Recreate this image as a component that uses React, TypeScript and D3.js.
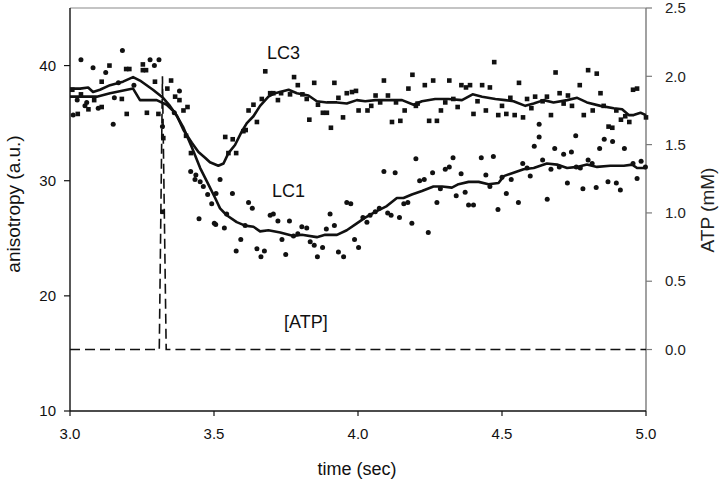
import React from "react";
import * as d3 from "d3";

// ---- data (time in s, anisotropy in a.u., ATP in mM) ----
const lc3Squares: [number, number][] = [
  [3.008,37.9],[3.027,35.8],[3.038,37.5],[3.064,36.2],[3.084,37.0],[3.110,38.6],[3.110,36.4],[3.137,40.0],[3.180,37.1],[3.195,39.7],[3.197,35.8],[3.206,39.7],[3.253,40.1],[3.253,39.6],[3.264,39.6],[3.267,35.9],[3.295,38.6],[3.307,35.8],[3.322,27.3],[3.324,33.7],[3.338,38.0],[3.351,38.7],[3.365,37.3],[3.380,37.0],[3.394,36.1],[3.403,33.9],[3.408,36.4],[3.420,32.4],
  [3.539,33.8],[3.550,32.4],[3.565,33.6],[3.577,32.4],[3.602,34.3],[3.610,34.4],[3.620,36.1],[3.637,36.6],[3.649,35.1],[3.666,37.1],[3.678,39.5],[3.695,37.6],[3.706,37.6],[3.722,37.0],[3.733,37.6],[3.764,37.5],[3.778,39.0],[3.791,38.3],[3.807,37.5],[3.822,37.1],[3.831,35.3],[3.848,38.5],[3.861,36.6],[3.878,35.9],[3.892,35.9],[3.906,34.6],[3.918,38.5],[3.932,37.2],[3.948,35.5],[3.961,37.6],[3.979,37.7],[3.993,37.8],[4.002,36.1],
  [4.033,36.1],[4.046,36.5],[4.061,37.4],[4.077,36.8],[4.090,38.7],[4.104,37.4],[4.118,35.1],[4.132,36.8],[4.147,35.2],[4.162,36.1],[4.175,38.0],[4.189,39.2],[4.201,36.5],[4.207,36.7],[4.232,38.3],[4.247,35.2],[4.261,38.7],[4.274,35.2],[4.288,36.1],[4.303,36.8],[4.317,38.7],[4.331,37.1],[4.346,36.4],[4.359,38.3],[4.375,38.1],[4.389,38.3],[4.401,35.8],[4.415,36.9],[4.431,38.3],[4.444,36.1],[4.458,38.1],[4.473,40.3],[4.487,35.7],[4.500,36.5],
  [4.515,35.8],[4.529,37.2],[4.544,35.7],[4.559,38.5],[4.573,35.5],[4.587,37.1],[4.602,36.3],[4.615,37.3],[4.641,36.9],[4.656,37.3],[4.670,35.7],[4.686,39.4],[4.700,37.6],[4.714,36.7],[4.729,37.4],[4.743,36.5],[4.770,38.3],[4.784,35.7],[4.799,39.6],[4.815,36.1],[4.829,39.3],[4.842,37.6],[4.853,36.5],[4.870,34.7],[4.883,34.6],[4.897,36.1],[4.913,35.3],[4.928,35.6],[4.942,35.1],[4.955,37.9],[4.969,38.0],[5.000,35.5]
];

const lc1Circles: [number, number][] = [
  [3.011,35.7],[3.025,37.0],[3.038,40.5],[3.052,36.5],[3.058,36.8],[3.080,39.8],[3.098,36.3],[3.124,39.4],[3.150,34.9],[3.154,37.2],[3.168,38.5],[3.182,41.3],[3.222,38.3],[3.278,40.5],[3.293,40.0],[3.309,40.5],[3.321,34.7],[3.362,35.9],[3.380,37.8],[3.419,30.8],[3.434,30.1],[3.437,30.5],[3.448,26.7],[3.452,29.9],[3.463,29.5],[3.478,28.8],[3.492,28.0],[3.501,26.3],[3.506,26.2],[3.507,28.9],[3.521,30.1],[3.536,25.9],[3.544,27.1],[3.564,28.9],[3.577,23.9],[3.593,24.9],[3.608,26.1],[3.620,28.1],[3.633,27.6],[3.649,24.1],[3.663,23.4],[3.675,23.9],[3.695,27.0],[3.706,27.1],[3.722,26.5],[3.736,24.9],[3.749,23.6],[3.762,26.5],[3.776,25.2],[3.791,25.4],[3.805,26.0],[3.822,25.9],[3.834,24.7],[3.848,24.4],[3.859,23.4],[3.877,24.2],[3.890,25.8],[3.903,27.1],[3.918,26.1],[3.932,23.8],[3.950,23.4],[3.961,28.1],[3.975,28.0],[3.988,24.9],[4.002,24.2],
  [4.017,26.8],[4.031,26.4],[4.042,27.0],[4.060,27.3],[4.074,27.6],[4.090,30.8],[4.103,27.2],[4.115,27.0],[4.129,30.7],[4.144,26.8],[4.159,28.0],[4.173,28.1],[4.187,26.3],[4.201,31.9],[4.214,30.0],[4.230,30.1],[4.244,25.5],[4.259,30.7],[4.274,28.1],[4.286,29.3],[4.303,31.0],[4.317,31.2],[4.330,32.0],[4.341,28.7],[4.358,30.6],[4.372,29.0],[4.384,27.9],[4.401,27.9],[4.428,32.0],[4.444,30.5],[4.458,29.5],[4.470,32.1],[4.486,27.5],[4.500,30.3],
  [4.515,28.9],[4.532,30.1],[4.557,28.1],[4.572,31.5],[4.587,31.1],[4.598,30.4],[4.612,33.0],[4.629,34.9],[4.629,33.8],[4.641,31.8],[4.657,28.4],[4.670,31.0],[4.683,32.8],[4.699,31.2],[4.714,32.3],[4.727,29.8],[4.741,32.5],[4.756,33.9],[4.758,31.2],[4.772,31.1],[4.781,29.3],[4.799,31.8],[4.813,31.5],[4.827,29.4],[4.839,32.8],[4.855,33.6],[4.868,29.9],[4.884,33.4],[4.897,29.8],[4.911,29.2],[4.925,32.8],[4.955,31.5],[4.969,30.2],[4.983,31.7],[4.998,31.2]
];

const lc3Smooth: [number, number][] = [
  [3.000,38.0],[3.035,38.0],[3.063,38.1],[3.080,37.7],[3.104,37.9],[3.139,38.3],[3.184,38.6],[3.219,39.0],[3.243,38.7],[3.288,37.9],[3.323,37.2],[3.347,36.5],[3.372,35.6],[3.394,34.4],[3.423,33.3],[3.446,32.5],[3.469,32.0],[3.486,31.6],[3.515,31.3],[3.533,31.5],[3.550,32.4],[3.573,33.1],[3.597,34.3],[3.614,35.0],[3.637,35.6],[3.660,36.5],[3.689,37.3],[3.712,37.6],[3.759,37.9],[3.788,37.6],[3.828,37.4],[3.857,36.9],[3.892,36.8],[3.927,36.8],[3.961,36.7],[3.996,37.0],[4.025,36.9],[4.060,37.0],[4.106,37.0],[4.153,37.0],[4.193,36.6],[4.222,36.9],[4.268,37.1],[4.314,37.1],[4.361,37.0],[4.398,37.5],[4.431,37.3],[4.477,37.1],[4.511,37.0],[4.540,36.9],[4.581,36.5],[4.610,36.7],[4.645,37.0],[4.679,36.8],[4.726,37.0],[4.761,37.2],[4.795,36.8],[4.842,36.5],[4.888,36.3],[4.917,36.2],[4.940,35.7],[4.957,35.7],[4.981,35.9],[5.000,35.7]
];

const lc1Smooth: [number, number][] = [
  [3.000,37.3],[3.093,37.3],[3.139,37.6],[3.219,38.0],[3.243,37.0],[3.301,37.0],[3.336,36.6],[3.365,35.9],[3.394,34.6],[3.423,32.9],[3.452,31.1],[3.480,29.7],[3.504,28.5],[3.521,27.6],[3.544,27.0],[3.579,26.4],[3.608,26.1],[3.637,26.0],[3.660,25.6],[3.689,25.7],[3.730,25.5],[3.776,25.2],[3.805,25.3],[3.857,25.1],[3.886,25.3],[3.927,25.3],[3.961,25.7],[3.996,26.3],[4.025,26.8],[4.060,27.3],[4.100,27.8],[4.135,28.5],[4.158,28.5],[4.187,28.8],[4.222,29.1],[4.262,29.5],[4.292,29.5],[4.326,29.4],[4.349,29.7],[4.384,29.9],[4.419,29.9],[4.453,29.7],[4.488,29.8],[4.506,30.4],[4.540,30.7],[4.575,31.0],[4.610,31.1],[4.656,31.5],[4.691,31.4],[4.726,31.1],[4.761,31.2],[4.795,31.4],[4.830,31.2],[4.876,31.3],[4.923,31.3],[4.952,31.4],[4.969,31.1],[5.000,31.1]
];

const atpTrace: [number, number][] = [
  [3.0,0],[3.310,0],[3.321,2.0],[3.334,0],[5.0,0]
];

const xTicks = [3.0, 3.5, 4.0, 4.5, 5.0];
const yLeftTicks = [10, 20, 30, 40];
const yRightTicks = [0.0, 0.5, 1.0, 1.5, 2.0, 2.5];

const labels = { lc3: "LC3", lc1: "LC1", atp: "[ATP]", x: "time (sec)", yl: "anisotropy (a.u.)", yr: "ATP (mM)" };

export default function App() {
  const W = 720, H = 482;
  const left = 70, right = 646, top = 8, bottom = 411;
  const x = d3.scaleLinear().domain([3, 5]).range([left, right]);
  const yL = d3.scaleLinear().domain([10, 45]).range([bottom, top]);
  const yR = d3.scaleLinear().domain([-0.45, 2.5]).range([bottom, top]);
  const lineL = d3.line<[number, number]>().x(d => x(d[0])).y(d => yL(d[1]));
  const lineR = d3.line<[number, number]>().x(d => x(d[0])).y(d => yR(d[1]));
  const font = "'Liberation Sans', Arial, Helvetica, sans-serif";
  const ink = "#111";
  return (
    <svg width={W} height={H} style={{ position: "absolute", left: 0, top: 0, background: "#fff" }} fontFamily={font}>
      <rect x={0} y={0} width={W} height={H} fill="#fff" />
      {/* frame */}
      <line x1={left} x2={right} y1={top} y2={top} stroke="#8a8a8a" strokeWidth={1.2} />
      <line x1={right} x2={right} y1={top} y2={bottom} stroke="#7a7a7a" strokeWidth={1.4} />
      <line x1={left} x2={left} y1={top} y2={bottom} stroke={ink} strokeWidth={1.4} />
      <line x1={left} x2={right} y1={bottom} y2={bottom} stroke={ink} strokeWidth={1.4} />
      {/* ATP dashed */}
      <path d={lineR(atpTrace) || ""} fill="none" stroke={ink} strokeWidth={1.6} strokeDasharray="10,5" />
      {/* smooth lines */}
      <path d={lineL(lc3Smooth) || ""} fill="none" stroke={ink} strokeWidth={2.6} strokeLinejoin="round" />
      <path d={lineL(lc1Smooth) || ""} fill="none" stroke={ink} strokeWidth={2.6} strokeLinejoin="round" />
      {/* scatter */}
      {lc3Squares.map((d, i) => (
        <rect key={"s" + i} x={x(d[0]) - 2.3} y={yL(d[1]) - 2.3} width={4.6} height={4.6} fill={ink} />
      ))}
      {lc1Circles.map((d, i) => (
        <circle key={"c" + i} cx={x(d[0])} cy={yL(d[1])} r={2.5} fill={ink} />
      ))}
      {/* bottom axis */}
      {xTicks.map(t => (
        <g key={"x" + t}>
          <line x1={x(t)} x2={x(t)} y1={bottom} y2={bottom + 5} stroke={ink} strokeWidth={1.2} />
          <text x={x(t)} y={439} textAnchor="middle" fontSize={15} fill={ink}>{t.toFixed(1)}</text>
        </g>
      ))}
      {/* left axis */}
      {yLeftTicks.map(t => (
        <g key={"l" + t}>
          <line x1={left - 6} x2={left} y1={yL(t)} y2={yL(t)} stroke={ink} strokeWidth={1.2} />
          <text x={56} y={yL(t)} dy="0.35em" textAnchor="end" fontSize={15} fill={ink}>{t}</text>
        </g>
      ))}
      {/* right axis */}
      {yRightTicks.map(t => (
        <g key={"r" + t}>
          <line x1={right} x2={right + 6} y1={yR(t)} y2={yR(t)} stroke="#7a7a7a" strokeWidth={1.2} />
          <text x={665} y={yR(t)} dy="0.35em" textAnchor="start" fontSize={15} fill="#222">{t.toFixed(1)}</text>
        </g>
      ))}
      {/* titles */}
      <text x={357} y={475} textAnchor="middle" fontSize={18} fill={ink}>{labels.x}</text>
      <text transform="translate(20,204) rotate(-90)" textAnchor="middle" fontSize={19} fill={ink}>{labels.yl}</text>
      <text transform="translate(714,210) rotate(-90)" textAnchor="middle" fontSize={19} fill="#222">{labels.yr}</text>
      {/* annotations */}
      <text x={267} y={59} fontSize={18} fill={ink}>{labels.lc3}</text>
      <text x={272} y={197} fontSize={18} fill={ink}>{labels.lc1}</text>
      <text x={284} y={328} fontSize={18} fill={ink}>{labels.atp}</text>
    </svg>
  );
}
